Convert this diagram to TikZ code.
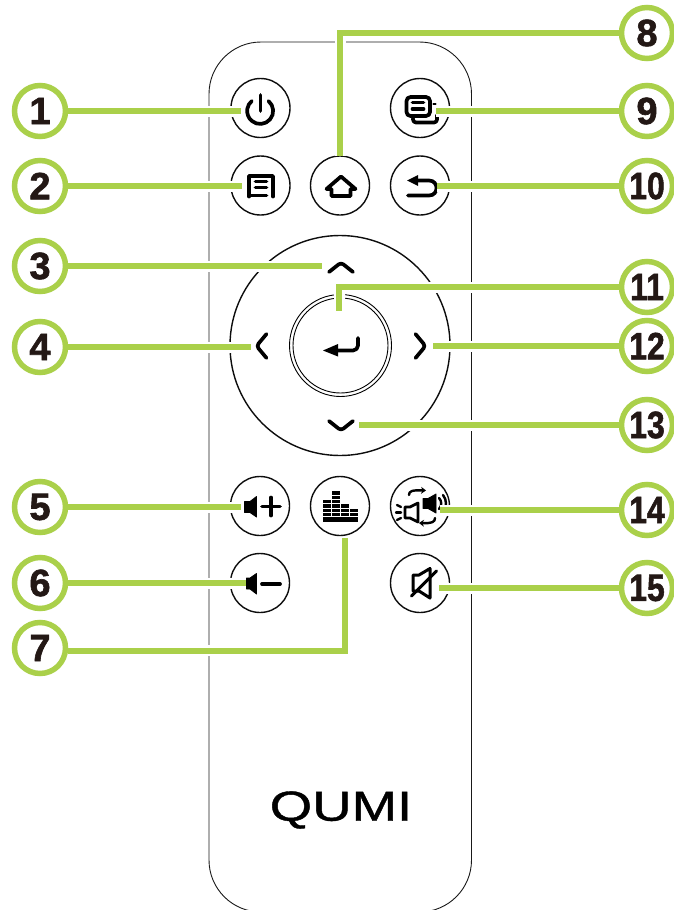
\documentclass[tikz,border=0pt]{standalone}
\usepackage{xcolor}
\usepackage{fontspec}
\usepackage{tikz}
\setmainfont{Liberation Sans}
\newfontfamily\badgefont[FakeBold=1.6]{Liberation Sans Bold}
\newfontfamily\logofont[FakeBold=0.9]{Liberation Sans}
\usetikzlibrary{arrows.meta, backgrounds}
\definecolor{leaf}{HTML}{AAD04A}
\definecolor{ink}{HTML}{231815}
\newcommand{\tightnum}[1]{\scalebox{0.84}[1]{#1}}
\tikzset{
  badge/.style={
    circle, minimum size=51pt, inner sep=0pt,
    draw=leaf, line width=5.5pt, text=ink,
    font=\fontsize{38}{38}\badgefont\bfseries,
  },
  button/.style={
    circle, minimum size=59pt, inner sep=0pt,
    draw=black!95, line width=1.4pt,
  },
  shell/.style={draw=black!90, line width=0.9pt, rounded corners=52pt},
  glyph/.style={draw=black, line width=3.7pt, line cap=round, line join=round},
  thinglyph/.style={draw=black, line width=2.4pt, line cap=round, line join=round},
  solid glyph/.style={fill=black, draw=black, line width=0.8pt, line join=round},
  leader/.style={
    draw=leaf, line width=6pt,
    preaction={draw=white, line width=11pt},
  },
}
\begin{document}
\begin{tikzpicture}[x=1pt, y=-1pt]
  \useasboundingbox (0,0) rectangle (673,910);

  \node[badge] (b1) at (40,111) {1};
  \node[badge] (b2) at (40,186) {2};
  \node[badge] (b3) at (40,266) {3};
  \node[badge] (b4) at (40,347) {4};
  \node[badge] (b5) at (40,507) {5};
  \node[badge] (b6) at (40,583) {6};
  \node[badge] (b7) at (40,648) {7};
  \node[badge] (b8) at (647,33) {8};
  \node[badge] (b9) at (647,111) {9};
  \node[badge] (b10) at (647,186) {\tightnum{10}};
  \node[badge] (b11) at (647,287) {\tightnum{11}};
  \node[badge] (b12) at (647,346) {\tightnum{12}};
  \node[badge] (b13) at (647,425) {\tightnum{13}};
  \node[badge] (b14) at (647,510) {\tightnum{14}};
  \node[badge] (b15) at (647,588) {\tightnum{15}};

  \begin{scope}[on background layer]
    \draw[shell] (209,42) rectangle (471.5,912);

    \node[button] (power) at (260.5,108) {};
    \node[button] (menu) at (260.5,185.5) {};
    \node[button] (home) at (340,185.5) {};
    \node[button] (source) at (420,108) {};
    \node[button] (back) at (420,185.5) {};
    \node[button] (volup) at (260,506) {};
    \node[button] (voldown) at (260,583) {};
    \node[button] (preset) at (340,506) {};
    \node[button] (mode) at (420,506) {};
    \node[button] (mute) at (420,583) {};
    \node[circle, minimum size=220pt, inner sep=0pt, draw=black!95, line width=1.4pt] (pad) at (340,345.5) {};
    \node[circle, minimum size=102pt, inner sep=0pt, draw=black, line width=0.9pt] (okouter) at (340.5,345.5) {};
    \node[circle, minimum size=95pt, inner sep=0pt, draw=black, line width=0.9pt] (okinner) at (340.5,345.5) {};

    \draw[glyph] (268.5,101) arc[start angle=-50, delta angle=280, radius=13];
    \draw[glyph] (260.5,95) -- (260.5,111);

    \draw[glyph] (249,196.5) -- (249,176) -- (273,176) -- (273,196.5);
    \draw[glyph] (255.5,181.5) -- (266.5,181.5);
    \draw[glyph] (255.5,187.5) -- (266.5,187.5);
    \draw[glyph] (249,195.5) -- (266.5,195.5);

    \draw[glyph] (326.5,189) -- (341,176.5) -- (355.5,189) -- (350.5,189) -- (350.5,196) -- (331.5,196) -- (331.5,189) -- cycle;

    \draw[glyph, rounded corners=4pt] (406.5,97) rectangle (430,116);
    \draw[glyph] (412.5,102.5) -- (423.5,102.5);
    \draw[glyph] (412.5,109) -- (423.5,109);
    \draw[glyph, rounded corners=3pt] (413,118.5) -- (413,122.5) -- (437,122.5) -- (437,115);
    \draw[thinglyph] (433.5,104) -- (435.5,104);

    \fill (407,180.5) -- (418,175) -- (418,186) -- cycle;
    \draw[glyph] (415,180.5) -- (429,180.5) .. controls (439,180.5) and (439,195.5) .. (429,195.5) -- (408,195.5);

    \draw[glyph, rounded corners=3pt] (329,272) -- (341,262.5) -- (353,272);
    \draw[glyph, rounded corners=3pt] (329,421) -- (341,430.5) -- (353,421);
    \draw[glyph, rounded corners=3pt] (266.5,334) -- (256.5,346) -- (266.5,358);
    \draw[glyph, rounded corners=3pt] (415.5,334) -- (425.5,346) -- (415.5,358);

    \fill (323,350.5) -- (338,344) -- (338,356.5) -- cycle;
    \draw[glyph, rounded corners=5pt] (335,350.5) -- (358,350.5) -- (358,338);

    \draw[solid glyph] (244.5,501.5) -- (250,501.5) -- (256.5,496.5) -- (256.5,517) -- (250,512.5) -- (244.5,512.5) -- cycle;
    \draw[glyph] (262,506.5) -- (280,506.5);
    \draw[glyph] (271,497.5) -- (271,515.5);

    \draw[solid glyph] (246.5,578) -- (250,578) -- (256.5,573.5) -- (256.5,594) -- (250,589) -- (246.5,589) -- cycle;
    \draw[glyph] (262,584) -- (280,584);

    \fill (331,491) rectangle (340,522);
    \fill (323,500) rectangle (331,522);
    \fill (340,504) rectangle (349,522);
    \fill (349,509) rectangle (358,522);
    \draw[white, line width=0.7pt] (331.4,490) -- (331.4,516);
    \draw[white, line width=0.7pt] (340.4,490) -- (340.4,516);
    \draw[white, line width=0.7pt] (349.4,490) -- (349.4,516);
    \draw[white, line width=0.8pt] (322,495.5) -- (359,495.5);
    \draw[white, line width=0.8pt] (322,499.5) -- (359,499.5);
    \draw[white, line width=0.8pt] (322,503.5) -- (359,503.5);
    \draw[white, line width=0.8pt] (322,508) -- (359,508);
    \draw[white, line width=0.8pt] (322,512) -- (359,512);
    \draw[white, line width=0.8pt] (322,516) -- (359,516);

    \draw[solid glyph] (423,498.5) -- (428,498.5) -- (436,494) -- (436,513) -- (428,508.5) -- (423,508.5) -- cycle;
    \draw[thinglyph] (439,498) .. controls (442,501) and (442,506) .. (439,509);
    \draw[thinglyph] (443,495) .. controls (447,500) and (447,507) .. (443,512);
    \draw[thinglyph, line width=2.8pt] (405,507) -- (410,507) -- (418,503) -- (418,522) -- (410,518) -- (405,518) -- cycle;
    \draw[thinglyph] (397,505) -- (401,507);
    \draw[thinglyph] (396,512.5) -- (401,512.5);
    \draw[thinglyph] (397,520) -- (401,518);
    \draw[thinglyph, -{Stealth[length=5pt, width=7pt]}] (409,495) .. controls (409,491) and (412,490) .. (426,490.5);
    \draw[thinglyph, -{Stealth[length=5pt, width=7pt]}] (435,518) .. controls (435,522) and (432,523.5) .. (419,523);

    \draw[thinglyph, line width=3pt] (413,575) -- (419,575) -- (430,568.5) -- (430,598) -- (419,591) -- (413,591) -- cycle;
    \draw[thinglyph, line width=3pt] (411.5,596) -- (436.5,571);

    \node[inner sep=0pt, font=\fontsize{42}{42}\logofont] (logo) at (341,810) {\scalebox{1.3}[1]{QUMI}};

    \coordinate (e1) at (241,111);
    \coordinate (e2) at (242,186);
    \coordinate (e3) at (322,266);
    \coordinate (e4) at (251,347);
    \coordinate (e5) at (241,507);
    \coordinate (e6) at (246,583);
    \coordinate (e7) at (344.5,538);
    \coordinate (e8) at (340,156);
    \coordinate (e9) at (436,111);
    \coordinate (e10) at (437,186);
    \coordinate (e11) at (339,311);
    \coordinate (e12) at (433,346);
    \coordinate (e13) at (359,425);
    \coordinate (e14) at (440,510);
    \coordinate (e15) at (439,588);

    \draw[leader] (b1) -- (e1);
    \draw[leader] (b2) -- (e2);
    \draw[leader] (b3) -- (e3);
    \draw[leader] (b4) -- (e4);
    \draw[leader] (b5) -- (e5);
    \draw[leader] (b6) -- (e6);
    \draw[leader] (b7.-6) -| (e7);
    \draw[leader] (b8) -| (e8);
    \draw[leader] (b9) -- (e9);
    \draw[leader] (b10) -- (e10);
    \draw[leader] (b11) -| (e11);
    \draw[leader] (b12) -- (e12);
    \draw[leader] (b13) -- (e13);
    \draw[leader] (b14) -- (e14);
    \draw[leader] (b15) -- (e15);
  \end{scope}

\end{tikzpicture}
\end{document}
